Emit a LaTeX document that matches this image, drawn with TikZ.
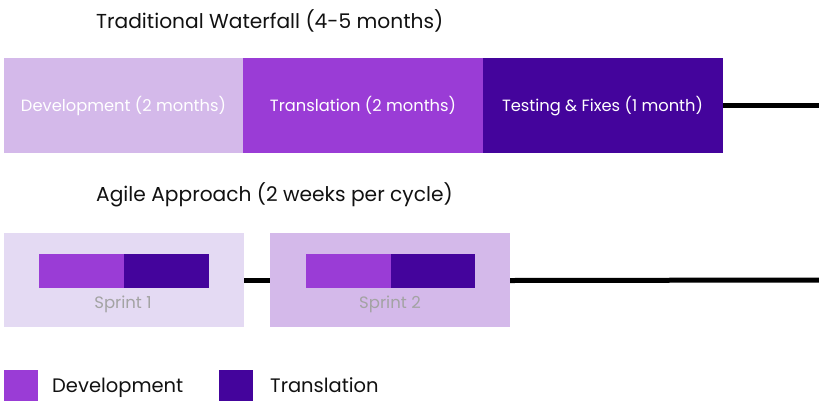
\documentclass[tikz,border=0pt]{standalone}
\usepackage{fontspec}
\setmainfont{Poppins}
\definecolor{devlight}{HTML}{D4B9EA}
\definecolor{devmid}{HTML}{9A3CD6}
\definecolor{transdark}{HTML}{44049C}
\definecolor{sprintpale}{HTML}{E4DAF3}
\definecolor{inkdark}{HTML}{111111}
\definecolor{sprintgray}{HTML}{A3A3A3}
\begin{document}
\begin{tikzpicture}[x=1pt,y=-1pt,
  phase/.style={draw=none,inner sep=0pt,outer sep=0pt,minimum width=240pt,minimum height=95pt,anchor=north west},
  phaselabel/.style={anchor=base,inner sep=0pt,text=white,font=\fontsize{16.3}{18}\selectfont},
  sprintbox/.style={draw=none,inner sep=0pt,outer sep=0pt,minimum width=240pt,minimum height=94pt,anchor=north west},
  seg/.style={draw=none,inner sep=0pt,outer sep=0pt,minimum width=85pt,minimum height=34pt,anchor=north west},
  heading/.style={anchor=base west,inner sep=0pt,text=inkdark,font=\fontsize{20.2}{22}\selectfont},
  sprintlabel/.style={anchor=base,inner sep=0pt,text=sprintgray,font=\fontsize{16.5}{18}\selectfont},
  swatch/.style={draw=none,inner sep=0pt,outer sep=0pt,minimum width=34pt,minimum height=34pt,anchor=north west},
  legendtext/.style={anchor=base west,inner sep=0pt,text=inkdark,font=\fontsize{19.5}{21}\selectfont},
  timeline/.style={line width=5pt,black}]
\useasboundingbox (0,0) rectangle (819,400);

% Traditional waterfall
\node[heading] (wtitle) at (96,28) {Traditional Waterfall (4-5 months)};
\coordinate (wend) at (819,105.5);
\node[phase,fill=devlight] (wdev) at (4,58) {};
\node[phase,fill=devmid] (wtrans) at (243,58) {};
\node[phase,fill=transdark] (wtest) at (483,58) {};
\node[phaselabel] (wdevt) at (123.5,111.5) {Development (2 months)};
\node[phaselabel] (wtranst) at (363,111.5) {Translation (2 months)};
\node[phaselabel] (wtestt) at (602.5,111.5) {Testing \& Fixes (1 month)};
\draw[timeline] (wtest.east) -- (wend);

% Agile sprints
\node[heading] (atitle) at (96,201.5) {Agile Approach (2 weeks per cycle)};
\coordinate (aend) at (819,280);
\node[sprintbox,fill=sprintpale] (s1) at (4,233) {};
\node[sprintbox,fill=devlight] (s2) at (270,233) {};
\draw[timeline] ([yshift=-0.5pt]s1.east) -- ([yshift=-0.5pt]s2.west);
\draw[timeline] ([yshift=-0.5pt]s2.east) -- (aend);
\node[seg,fill=devmid] (s1dev) at (39,254) {};
\node[seg,fill=transdark,minimum width=85pt] (s1trans) at (124,254) {};
\node[sprintlabel] (s1lbl) at (123,308) {Sprint 1};
\node[seg,fill=devmid] (s2dev) at (306,254) {};
\node[seg,fill=transdark,minimum width=84pt] (s2trans) at (391,254) {};
\node[sprintlabel] (s2lbl) at (390,308) {Sprint 2};

% Legend
\node[swatch,fill=devmid] (ldev) at (4,370) {};
\node[legendtext] (ldevt) at (52,392) {Development};
\node[swatch,fill=transdark] (ltrans) at (219,370) {};
\node[legendtext] (ltranst) at (270,392) {Translation};
\end{tikzpicture}
\end{document}
